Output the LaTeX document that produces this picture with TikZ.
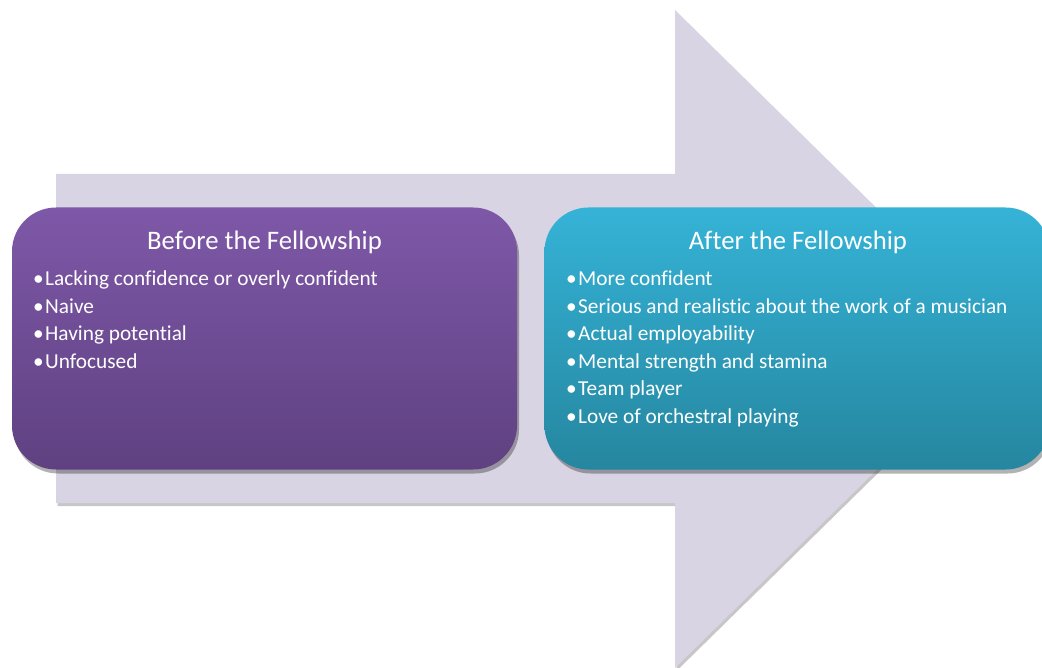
\documentclass[tikz,border=0pt]{standalone}
\usepackage{fontspec}
\setmainfont[Ligatures=NoCommon]{Carlito}
\usetikzlibrary{shadows}
\definecolor{arrowc}{HTML}{D8D4E3}
\definecolor{purtop}{HTML}{7E58A8}
\definecolor{purbot}{HTML}{5F4181}
\definecolor{cyantop}{HTML}{35B3D7}
\definecolor{cyanbot}{HTML}{25869F}
\begin{document}
\begin{tikzpicture}[x=1pt,y=-1pt,
  panel/.style={rectangle,rounded corners=44pt,minimum width=505pt,minimum height=262pt,inner sep=0pt,
    drop shadow={shadow xshift=2pt,shadow yshift=-4pt,fill=black,opacity=0.3}},
  title/.style={text=white,font=\fontsize{26.7}{30}\selectfont,anchor=base,inner sep=0pt},
  item/.style={text=white,font=\fontsize{21.3}{27}\selectfont,anchor=base west,inner sep=0pt}]
\useasboundingbox (0,0) rectangle (1042,668);
\fill[white] (0,0) rectangle (1042,668);
% arrow
\fill[arrowc,drop shadow={shadow xshift=1.5pt,shadow yshift=-3pt,fill=black,opacity=0.22}]
  (56,174) -- (675,174) -- (675,10) -- (1010,339) -- (675,668) -- (675,503) -- (56,503) -- cycle;
% panels
\node[panel,top color=purtop,bottom color=purbot] (before) at (264.5,338.5) {};
\node[panel,top color=cyantop,bottom color=cyanbot] (after) at (797,338.5) {};
\node[title] (bt) at (264.5,250) {Before the Fellowship};
\node[title] (at) at (798,250) {After the Fellowship};
\foreach \t [count=\i] in {Lacking confidence or overly confident,Naive,Having potential,Unfocused}
  \node[item] (b\i) at (45,{286+27.4*(\i-1)}) {\llap{\textbullet\hspace{1.5pt}}\t};
\foreach \t [count=\i] in {More confident,Serious and realistic about the work of a musician,Actual employability,Mental strength and stamina,Team player,Love of orchestral playing}
  \node[item] (a\i) at (578,{286+27.4*(\i-1)}) {\llap{\textbullet\hspace{1.5pt}}\t};
\end{tikzpicture}
\end{document}
